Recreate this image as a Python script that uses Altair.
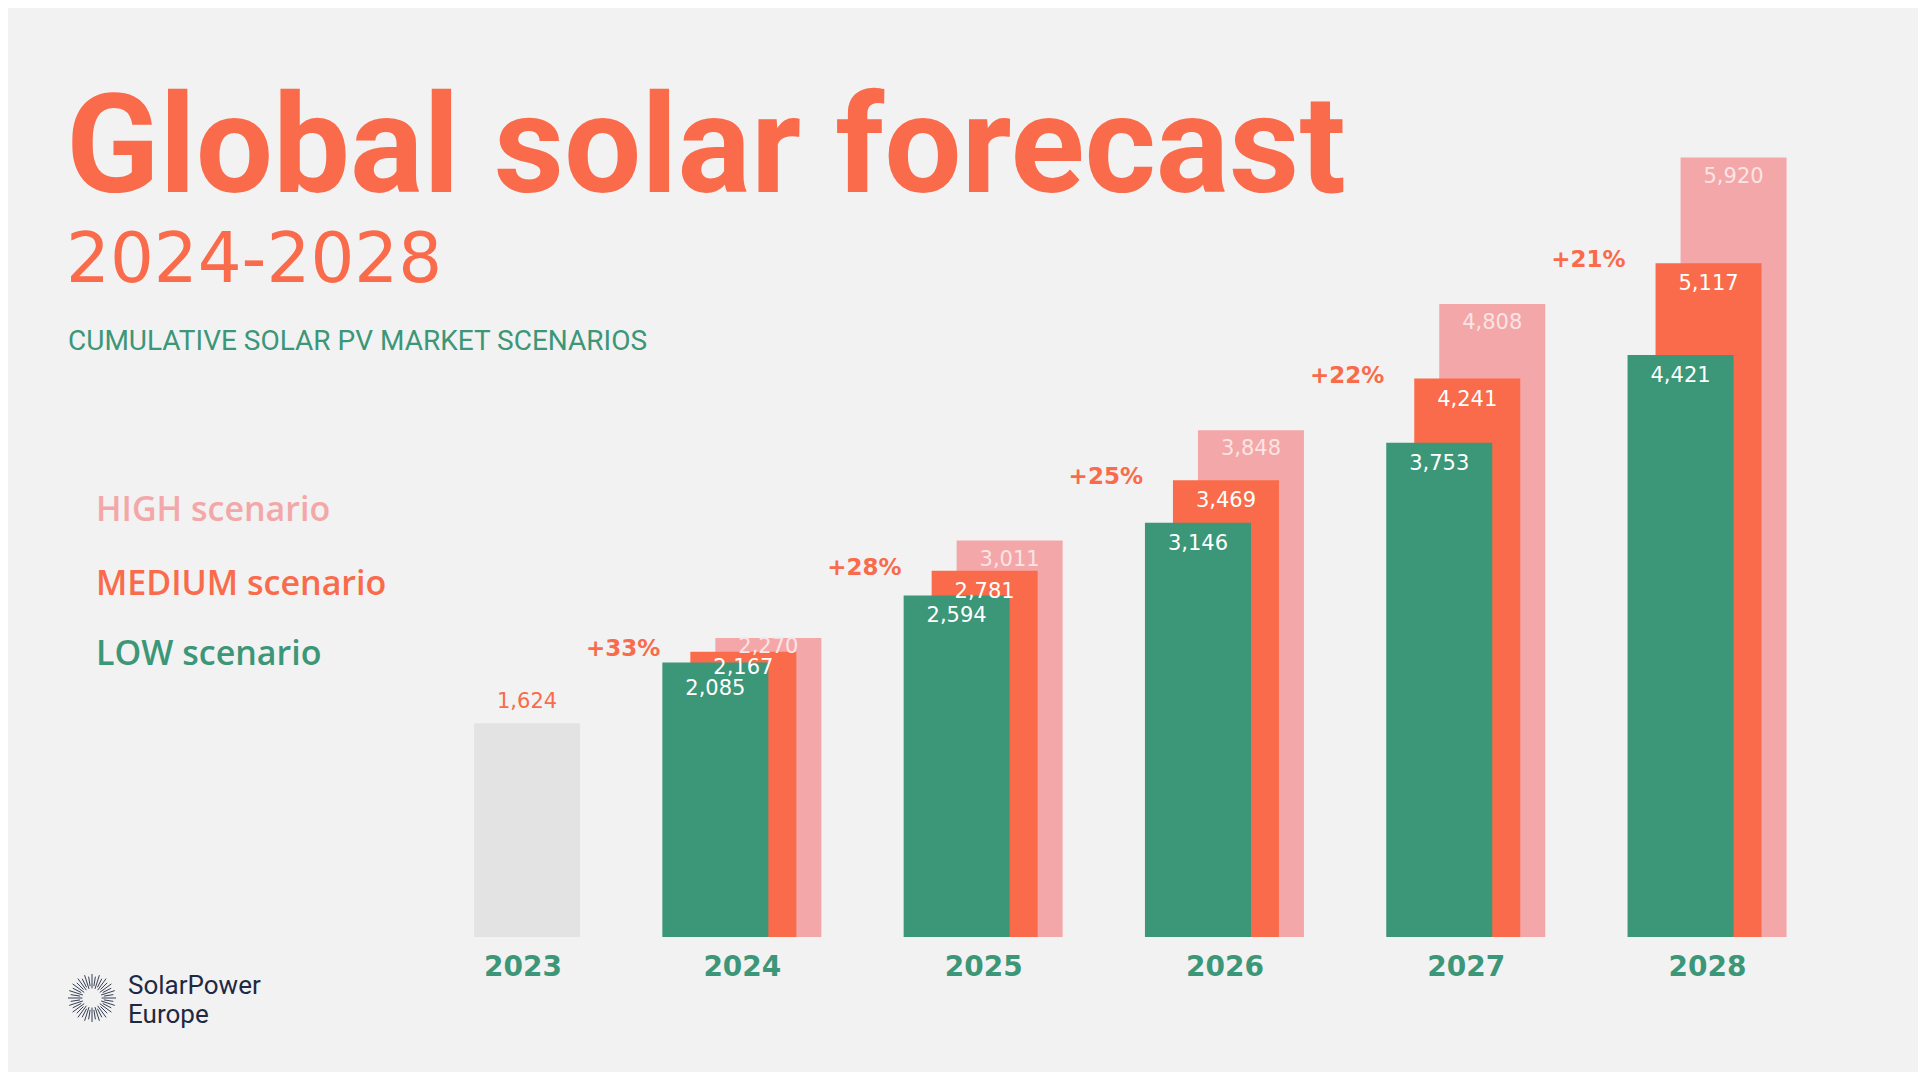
import math
import altair as alt
import pandas as pd

# ---------------- data ----------------
years = ["2023", "2024", "2025", "2026", "2027", "2028"]
forecast_years = ["2024", "2025", "2026", "2027", "2028"]
actual_2023 = [1624]
low_scenario = [2085, 2594, 3146, 3753, 4421]
medium_scenario = [2167, 2781, 3469, 4241, 5117]
high_scenario = [2270, 3011, 3848, 4808, 5920]
growth_labels = ["+33%", "+28%", "+25%", "+22%", "+21%"]
scenario_names = ["HIGH scenario", "MEDIUM scenario", "LOW scenario"]

title_text = ["Global solar forecast"]
subtitle_text = ["2024-2028"]
caption_text = ["CUMULATIVE SOLAR PV MARKET SCENARIOS"]
logo_lines = ["SolarPower", "Europe"]

# ---------------- styles ----------------
GREEN = "#3c9678"
ORANGE = "#f96b4a"
PINK = "#f4a7a9"
GREY = "#e3e3e3"
BG = "#f2f2f2"
NAVY = "#1f2942"
NUM_FONT = "DejaVu Sans"
TXT_FONT = "Roboto"

rows = []
for name, vals in zip(scenario_names, [high_scenario, medium_scenario, low_scenario]):
    for yr, v in zip(forecast_years, vals):
        rows.append({"year": yr, "scenario": name, "value": v})
scen_df = pd.DataFrame(rows)
actual_df = pd.DataFrame({"year": ["2023"], "value": actual_2023})
growth_df = pd.DataFrame({"year": forecast_years, "value": medium_scenario, "label": growth_labels})
years_df = pd.DataFrame({"year": years})
legend_df = pd.DataFrame({"scenario": scenario_names})

x_scale = alt.Scale(domain=years, range=[372.4, 1820.2], paddingInner=0, paddingOuter=0)
y_scale = alt.Scale(domain=[0, 6000], range=[929, 139])
color_scale = alt.Scale(domain=scenario_names, range=[PINK, ORANGE, GREEN])

X = alt.X("year:N", scale=x_scale, axis=None)
Y = alt.Y("value:Q", scale=y_scale, axis=None)
C = alt.Color("scenario:N", scale=color_scale, legend=None)

bar_offset = {"HIGH scenario": 26, "MEDIUM scenario": 1, "LOW scenario": -27}
label_dy = {"HIGH scenario": 19, "MEDIUM scenario": 21, "LOW scenario": 21}
# the 2024 bars are close together: nudge their labels apart
label_dy_2024 = {"HIGH scenario": 9, "MEDIUM scenario": 16, "LOW scenario": 27}
label_color = {"HIGH scenario": "#fbe4e4", "MEDIUM scenario": "#ffffff", "LOW scenario": "#ffffff"}
BAR_W = 106

layers = []

# 2023 actual bar
layers.append(
    alt.Chart(actual_df).mark_bar(width=BAR_W, xOffset=26, color=GREY).encode(x=X, y=Y)
)

# scenario bars (back to front)
for name in scenario_names:
    layers.append(
        alt.Chart(scen_df)
        .transform_filter(alt.datum.scenario == name)
        .mark_bar(width=BAR_W, xOffset=bar_offset[name])
        .encode(x=X, y=Y, color=C)
    )

# value labels inside bars
for name in scenario_names:
    for is_2024 in (False, True):
        flt = (alt.datum.year == "2024") if is_2024 else (alt.datum.year != "2024")
        dy = label_dy_2024[name] if is_2024 else label_dy[name]
        layers.append(
            alt.Chart(scen_df)
            .transform_filter(alt.datum.scenario == name)
            .transform_filter(flt)
            .mark_text(xOffset=bar_offset[name], dy=dy, font=NUM_FONT,
                       fontSize=21, color=label_color[name], baseline="middle")
            .encode(x=X, y=Y, text=alt.Text("value:Q", format=","))
        )

# 2023 label
layers.append(
    alt.Chart(actual_df)
    .mark_text(xOffset=26, dy=-21, font=NUM_FONT, fontSize=21, color=ORANGE, baseline="middle")
    .encode(x=X, y=Y, text=alt.Text("value:Q", format=","))
)

# growth labels
layers.append(
    alt.Chart(growth_df)
    .mark_text(xOffset=-82, dy=-3, align="right", baseline="middle", font=NUM_FONT,
               fontSize=23, fontWeight="bold", color=ORANGE)
    .encode(x=X, y=Y, text="label:N")
)

# year labels
for sel, off in [("2023", 22), (None, 0)]:
    base = alt.Chart(years_df)
    if sel is not None:
        base = base.transform_filter(alt.datum.year == sel)
    else:
        base = base.transform_filter(alt.datum.year != "2023")
    layers.append(
        base.mark_text(xOffset=off, font=NUM_FONT, fontSize=28, fontWeight="bold",
                       color=GREEN, baseline="middle")
        .encode(x=X, y=alt.value(960), text="year:N")
    )

# legend (coloured text)
legend_y = {"HIGH scenario": 503, "MEDIUM scenario": 577, "LOW scenario": 647}
for name in scenario_names:
    layers.append(
        alt.Chart(legend_df)
        .transform_filter(alt.datum.scenario == name)
        .mark_text(align="left", baseline="middle", font="Open Sans", fontSize=34, fontWeight=600)
        .encode(x=alt.value(88), y=alt.value(legend_y[name]), text="scenario:N", color=C)
    )

# titles
layers.append(
    alt.Chart(pd.DataFrame({"t": title_text}))
    .mark_text(align="left", baseline="alphabetic", font=TXT_FONT, fontSize=137,
               fontWeight="bold", color=ORANGE)
    .encode(x=alt.value(58), y=alt.value(184), text="t:N")
)
layers.append(
    alt.Chart(pd.DataFrame({"t": subtitle_text}))
    .mark_text(align="left", baseline="alphabetic", font="DejaVu Sans", fontSize=69,
               fontWeight="normal", color=ORANGE)
    .encode(x=alt.value(58), y=alt.value(274), text="t:N")
)
layers.append(
    alt.Chart(pd.DataFrame({"t": caption_text}))
    .mark_text(align="left", baseline="alphabetic", font=TXT_FONT, fontSize=28,
               fontWeight="normal", color=GREEN)
    .encode(x=alt.value(60), y=alt.value(342), text="t:N")
)

# logo
rays = []
n_rays = 40
for i in range(n_rays):
    a = 2 * math.pi * i / n_rays
    r0 = 0.4 if i % 2 == 0 else 0.5
    r1 = 1.0 if i % 2 == 0 else 0.9
    rays.append(f"M{r0*math.cos(a):.3f},{r0*math.sin(a):.3f}L{r1*math.cos(a):.3f},{r1*math.sin(a):.3f}")
sun_path = "".join(rays)
layers.append(
    alt.Chart(pd.DataFrame({"logo": ["SolarPower Europe"]}))
    .mark_point(shape=sun_path, size=2304, filled=False, stroke=NAVY, strokeWidth=0.9, opacity=1)
    .encode(x=alt.value(84), y=alt.value(990))
)
for line, yy in zip(logo_lines, [986, 1015]):
    layers.append(
        alt.Chart(pd.DataFrame({"t": [line]}))
        .mark_text(align="left", baseline="alphabetic", font=TXT_FONT, fontSize=26, color=NAVY)
        .encode(x=alt.value(120), y=alt.value(yy), text="t:N")
    )

chart = (
    alt.layer(*layers)
    .properties(width=1910, height=1064, padding=0,
                autosize=alt.AutoSizeParams(type="none"), background=BG)
    .configure_view(stroke=None)
)

chart.save("out.html", embed_options={"renderer": "svg", "actions": False})
